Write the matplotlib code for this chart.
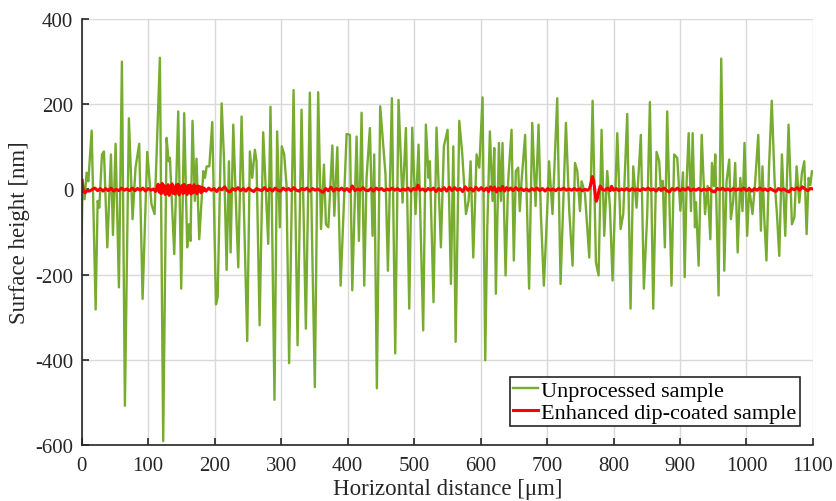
import matplotlib
matplotlib.use('Agg')
import matplotlib.pyplot as plt

plt.rcParams['font.family'] = ['Liberation Serif', 'DejaVu Serif']
plt.rcParams['axes.unicode_minus'] = False

# unprocessed profile: peaks and valleys along the scan
green_x = [0, 1.4, 4.4, 7.4, 10, 15, 21, 24, 26.5, 30.5, 33.5, 38.5, 44, 47, 51, 56, 60.5, 65, 71, 76.5,
           81, 86.5, 91.6, 98.6, 105, 109.6, 117.6, 122.6, 127.7, 130.7, 132.7, 139.2, 145.2, 149.7, 154.2,
           158.7, 161.2, 163.7, 166.7, 170.2, 172.7, 176.8, 183, 185.4, 188, 192, 196.4, 202, 204.5, 210.5,
           214, 218, 221.5, 224, 228, 233, 235.5, 240.5, 249, 253, 256.5, 260.5, 263, 267.6, 273, 280.6,
           284, 290, 294, 298, 301, 304.6, 308, 312, 318.7, 324.7, 330.7, 337.2, 343.2, 346.2, 350.7, 355.7,
           360, 364.4, 367.4, 371, 377, 380, 384.5, 389.5, 398.5, 403.5, 407, 413.5, 417, 421, 425, 428.5,
           433.5, 437.5, 440, 444, 449, 457, 460.6, 466.6, 471.6, 476.6, 482.6, 487.7, 492.7, 497.2, 502.2,
           506.7, 513.7, 517.7, 521.7, 523.7, 529.2, 533.7, 540.3, 544.8, 550.4, 555.4, 559, 562.5, 568,
           572.5, 578, 582, 585, 589, 594, 598, 603, 607, 610, 614, 618, 620.6, 623, 627.6, 630.6, 633,
           637.6, 641.5, 646.6, 650, 653, 656.6, 659, 661.6, 667, 673, 677.7, 682.7, 687.2, 690.7, 695.2,
           700.2, 703, 708.2, 715.3, 720.3, 728.4, 733.4, 738.4, 742, 745.5, 749.5, 752, 757, 763.5, 768.5,
           773.5, 777.5, 782, 786, 790.5, 794.5, 798.5, 805.6, 810.6, 814.6, 820.6, 825.6, 829.6, 834.6,
           841.1, 845.6, 850.7, 854.7, 859.7, 864.7, 868.7, 871.2, 874, 877.2, 880.7, 887.2, 891.2, 895.8,
           900.5, 904.5, 907, 910, 913, 916.5, 919, 922.5, 924, 928, 932.6, 937.6, 941.5, 945.6, 948, 951,
           953, 958, 962, 966.6, 970, 974, 976.5, 980, 983, 986.7, 990.7, 994, 997, 1001, 1004, 1009, 1013,
           1017.7, 1021.7, 1024, 1026.7, 1030, 1034, 1038, 1042.3, 1045.8, 1049.3, 1053.3, 1058.3, 1063.3,
           1068.3, 1072, 1075.4, 1079.4, 1083.4, 1086.9, 1090.4, 1093.4, 1096, 1098.4, 1100]
green_y = [-105, 23, -23, 39, 19, 138, -282, -27, -43, 82, 89, -136, 82, -107, 107, -230, 300, -508, 167, -70,
           51, 107, -257, 88, -35, -58, 309, -591, 121, 66, 74, -152, 183, -233, 179,
           -136, -82, -121, 161, -27, 72, -117, 43, 27, 54, 54, 158, -270, -253, 202,
           74, -189, 66, -148, 152, -78, -183, 171, -356, 89, 27, 93, 66, -319, 134, -128,
           194, -494, 136, -89, 101, 82, 12, -408, 233, -366, 187, -327, 227, -93, -464, 228,
           -93, 58, -82, -89, 103, -62, 99, -226, 130, 128, -237, 124, -121, 180, -226, 27,
           144, -109, 82, -467, 195, 35, -191, 214, -385, 210, -31, 144, -280, 145, -58,
           105, -331, 152, 27, 66, -265, 145, -136, 101, 140, -222, 101, -358, 161,
           82, -58, -27, 66, -160, 82, 51, 216, -401, -97, 136, -27, 97, -245, 109, -27, 109,
           -202, 19, 140, -167, 43, 51, -51, 19, 128, -233, 156, -39, 152, -58, -226,
           -51, 66, -58, 214, -222, 156, -51, -179, 62, 43, -51, 19, -10, -160, 208,
           -171, -202, 140, -109, 43, -39, -214, 132, -93, -58, 177, -280, 54, -43,
           128, -233, -58, 205, -280, 88, 66, -4, 20, -136, 183, -226, 82, 74,
           -50, 40, -206, 20, 132, -51, 132, -89, -30, -179, 128, -58, 8, -117, 62, 8,
           82, -249, 307, -191, 19, 70, -70, -27, 62, -148, 27, -51, 109, -109, 4, -58, 16,
           128, -97, 54, -66, -167, 58, 208, 19, -58, -156, 82, -109, 152,
           -82, -66, 54, -31, 39, 66, -105, 27, 10, 43, 40]

# dip-coated profile
red_x = [0, 1.5, 3, 5, 8, 12, 16, 20, 24, 28, 32, 36, 40, 44, 48, 52, 56, 60, 64, 68, 72, 76, 80, 84, 88,
         92, 96, 100, 104, 108, 111, 113,
         115, 116.5, 118, 119.5, 121, 122.5, 124, 125.5, 127, 128.5, 130, 131.5, 133, 134.5, 136, 137.5,
         139, 140.5, 142, 143.5, 145, 146.5, 148, 149.5, 151, 152.5, 154, 155.5, 157, 158.5, 160, 161.5,
         163, 164.5, 166, 167.5, 169, 170.5, 172, 173.5, 175, 176.5, 178, 179.5, 181, 182.5, 184,
         187, 191, 195, 199, 203, 207, 211, 215, 219, 223, 227, 231, 235, 239, 243, 247, 251, 255, 259,
         263, 267, 271, 275, 279, 283, 287, 291, 295, 299, 303, 307, 311, 315, 319, 323, 327, 331, 335,
         339, 343, 347, 351, 355, 359, 363, 367, 371, 375, 379, 383, 387, 391, 395, 399, 403, 407, 411,
         415, 419, 423, 427, 431, 435, 439, 443, 447, 451, 455, 459, 463, 467, 471, 475, 479, 483, 487,
         491, 495, 499, 503, 506, 509, 513, 517, 521, 525, 529, 533, 537, 541, 545, 549, 553, 557, 561,
         565, 569, 573, 577, 581, 585, 589, 593, 597, 601, 605, 609, 612, 615, 618, 621, 624, 627, 630,
         633, 636, 639, 642, 645, 649, 653, 657, 661, 665, 669, 673, 677, 681, 685, 689, 693, 697, 701,
         705, 709, 713, 717, 721, 725, 729, 733, 737, 741, 745, 749, 753, 757, 761, 764, 766, 768, 770,
         772, 774, 776, 778, 780, 783, 787, 791, 795, 797, 800, 804, 808, 812, 816, 820, 824, 828, 832,
         836, 840, 844, 848, 852, 856, 860, 864, 868, 872, 876, 880, 884, 888, 892, 896, 900, 904, 908,
         912, 916, 920, 924, 928, 932, 936, 940, 944, 948, 952, 956, 960, 964, 968, 972, 976, 980, 984,
         988, 992, 996, 1000, 1004, 1008, 1012, 1016, 1020, 1024, 1028, 1032, 1036, 1040, 1044, 1048,
         1052, 1056, 1060, 1064, 1068, 1072, 1076, 1080, 1084, 1088, 1092, 1096, 1100]
red_y = [22, 5, -5, -8, -3, -4, 0, 3, -3, 2, -4, 2, -3, 3, -4, 0, -3, 3, -2, 1, -3, 3, -3, 2, -2,
         3, -4, 2, -2, 1, -5, 3,
         12, -6, 8, -10, 14, -4, 9, -12, 6, -8, 11, -14, 5, -6, 13, -9,
         4, -11, 10, -3, 12, -13, 7, -5, 9, -10, 12, -7, 4, -12, 9, -4,
         10, -11, 5, -8, 11, -6, 7, -10, 8, -3, 6, -8, 5, -4, 3,
         -4, 3, -2, 2, -5, 3, -1, 6, -3, -6, 2, -2, 4, -3, 2, -4, 3, -2, -5,
         2, -1, -3, 4, -3, 2, -4, 3, -2, -4, 3, -2, 2, -3, 4, -2, -4, 2, -1,
         3, -4, 2, -2, 1, -3, -7, 2, -3, 5, -4, 2, -2, 3, -3, 2, -5, 8, -3,
         1, -2, 4, -2, -3, 2, -4, 3, -1, 2, -3, 1, -2, 3, -2, 2, -3, 1, -2,
         3, -4, 2, -1, 10, -2, 1, -4, 2, -2, 3, -5, 2, -3, 4, -4, 5, -3, 4,
         -2, 2, -5, 6, -2, 3, -4, 5, -2, 4, -3, 3, -5, 6, -2, 5, -6, 3, -3,
         7, -4, 4, -2, 3, -3, 4, -2, 2, -3, 1, -4, 2, -2, 3, -3, 2, -4, 2,
         -2, 1, -3, 2, -1, 3, -2, 1, -2, 2, -2, 1, -3, 0, -2, 2, 14, 30, 20,
         -5, -28, -20, -3, 8, 0, -2, 3, -3, 7, -2, 2, -3, 1, -2, 2, -3, 2, -2,
         1, -3, 2, -1, 3, -2, 1, -4, 2, -2, 3, -3, -6, 2, -2, 3, -3, 2, -2,
         4, -3, 1, -2, 2, -3, 1, -2, 2, -4, -6, 2, -1, 3, -2, 1, -3, 2, -2,
         1, -2, 3, -3, 2, -4, 2, -2, 3, -2, 1, -3, 2, -2, -5, 2,
         -2, 1, -3, -6, 2, -1, 4, -2, 6, 1, -3, 2, 1]

x_ticks = [0, 100, 200, 300, 400, 500, 600, 700, 800, 900, 1000, 1100]
y_ticks = [-600, -400, -200, 0, 200, 400]

fig = plt.figure(figsize=(8.37, 5.02), dpi=100)
ax = fig.add_axes([0.0976, 0.1116, 0.8737, 0.8486])

ax.plot(green_x, green_y, color='#77AC30', lw=1.7, label='Unprocessed sample')
ax.plot(red_x, red_y, color='#FF0000', lw=2.2, label='Enhanced dip-coated sample')

ax.set_xlim(0, 1100)
ax.set_ylim(-600, 400)
ax.set_xticks(x_ticks)
ax.set_yticks(y_ticks)
ax.grid(True, color='#d9d9d9', lw=1.0)
ax.set_axisbelow(True)

for s in ['top', 'right']:
    ax.spines[s].set_visible(False)
for s in ['left', 'bottom']:
    ax.spines[s].set_color('#262626')
    ax.spines[s].set_linewidth(1.2)

ax.tick_params(direction='in', length=5, width=1.2, colors='#262626', labelsize=15)
ax.tick_params(axis='x', pad=8)
ax.tick_params(axis='y', pad=6)

ax.set_xlabel('Horizontal distance [\u03bcm]', fontsize=16.5, color='#262626', labelpad=2)
ax.set_ylabel('Surface height [nm]', fontsize=16.5, color='#262626', labelpad=4)

leg = ax.legend(loc='lower right', bbox_to_anchor=(0.982, 0.0446), borderaxespad=0,
                fontsize=16, fancybox=False, framealpha=1, edgecolor='#262626',
                handlelength=1.1, handletextpad=0.15, borderpad=0.15, labelspacing=0.05)
leg.get_frame().set_linewidth(1.2)

fig.savefig('out.png', dpi=100)
